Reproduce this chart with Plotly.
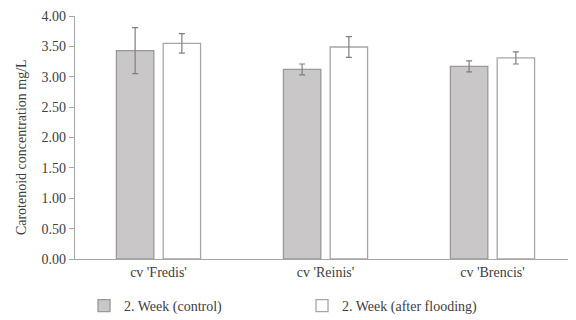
import plotly.graph_objects as go

categories = ["cv 'Fredis'", "cv 'Reinis'", "cv 'Brencis'"]
control = [3.43, 3.12, 3.17]
control_err = [0.38, 0.09, 0.09]
flooding = [3.55, 3.49, 3.31]
flooding_err = [0.16, 0.17, 0.10]
y_ticks = [0, 0.5, 1.0, 1.5, 2.0, 2.5, 3.0, 3.5, 4.0]

FONT = "Liberation Serif, Times New Roman, serif"
FS = 14

fig = go.Figure()
fig.add_trace(go.Bar(
    x=categories, y=control, name="2. Week (control)",
    marker=dict(color="#c9c7c7", line=dict(color="#999999", width=1.3)),
    error_y=dict(type="data", array=control_err, color="#7f7f7f", thickness=1.2, width=3),
))
fig.add_trace(go.Bar(
    x=categories, y=flooding, name="2. Week (after flooding)",
    marker=dict(color="#ffffff", line=dict(color="#a6a6a6", width=1.3)),
    error_y=dict(type="data", array=flooding_err, color="#7f7f7f", thickness=1.2, width=3),
))

fig.update_layout(
    width=568, height=312,
    margin=dict(l=67, r=0, t=8, b=61, autoexpand=False),
    paper_bgcolor="white", plot_bgcolor="white",
    barmode="group", bargap=0.44, bargroupgap=0.2,
    font=dict(family=FONT, size=FS, color="#404040"),
    showlegend=True,
    legend=dict(orientation="h", x=0.018, xanchor="left", y=-0.128, yanchor="top",
                entrywidth=173, entrywidthmode="pixels",
                font=dict(family=FONT, size=FS, color="#404040"),
                traceorder="normal"),
    xaxis=dict(showline=True, linecolor="#a6a6a6", linewidth=1.3, ticks="",
               tickfont=dict(family=FONT, size=FS, color="#404040")),
    yaxis=dict(range=[0, 4.0], tickvals=y_ticks, tickformat=".2f",
               showline=True, linecolor="#a6a6a6", linewidth=1.3,
               ticks="outside", ticklen=5, tickcolor="#a6a6a6",
               showgrid=False, zeroline=False,
               tickfont=dict(family=FONT, size=FS, color="#404040")),
)
fig.add_annotation(text="Carotenoid concentration mg/L", textangle=-90,
                   xref="paper", yref="paper", x=-0.108, y=0.46,
                   xanchor="center", yanchor="middle", showarrow=False,
                   font=dict(family=FONT, size=FS, color="#404040"))

fig.write_html("out.html")
